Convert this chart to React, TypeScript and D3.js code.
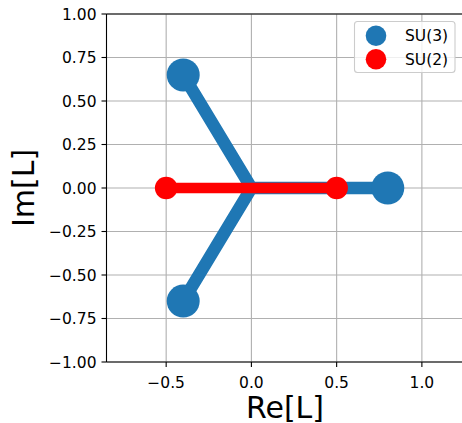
import React from "react";
import * as d3 from "d3";

const su3Re = [-0.4, -0.4, 0.8];
const su3Im = [0.65, -0.65, 0.0];
const su2Re = [-0.5, 0.5];
const su2Im = [0.0, 0.0];
const xTicks = [-0.5, 0.0, 0.5, 1.0];
const yTicks = [-1.0, -0.75, -0.5, -0.25, 0.0, 0.25, 0.5, 0.75, 1.0];
const legendLabels = ["SU(3)", "SU(2)"];

const W = 462;
const H = 423;
const FONT = "DejaVu Sans, sans-serif";

export default function App() {
  const x = d3.scaleLinear().domain([-0.85, 1.25]).range([106.5, 464.5]);
  const y = d3.scaleLinear().domain([-1, 1]).range([362, 14]);
  const blue = "#1f77b4";
  const red = "#ff0000";
  const fmtY = (v: number) => d3.format(".2f")(v).replace("-", "\u2212");
  const fmtX = (v: number) => d3.format(".1f")(v).replace("-", "\u2212");

  const line = d3.line<[number, number]>().x((d) => x(d[0])).y((d) => y(d[1]));
  const origin: [number, number] = [0, 0];
  const blueArms = su3Re.map((r, i) => line([origin, [r, su3Im[i]]]) as string).join(" ");
  const redPath = line(su2Re.map((r, i) => [r, su2Im[i]] as [number, number])) as string;

  return (
    <svg
      width={W}
      height={H}
      style={{ position: "absolute", left: 0, top: 0, background: "#fff" }}
      fontFamily={FONT}
    >
      <defs>
        <clipPath id="plotclip">
          <rect x={106.5} y={14} width={358} height={348} />
        </clipPath>
      </defs>
      {/* grid */}
      <g stroke="#b0b0b0" strokeWidth={1.1}>
        {xTicks.map((t) => (
          <line key={"gx" + t} x1={x(t)} x2={x(t)} y1={14} y2={362} />
        ))}
        {yTicks.map((t) => (
          <line key={"gy" + t} x1={106.5} x2={W + 5} y1={y(t)} y2={y(t)} />
        ))}
      </g>
      <g clipPath="url(#plotclip)">
        <path d={blueArms} fill="none" stroke={blue} strokeWidth={12.5} strokeLinejoin="round" strokeLinecap="butt" />
        <path d={redPath} fill="none" stroke={red} strokeWidth={10.5} strokeLinejoin="round" strokeLinecap="butt" />
        {su3Re.map((r, i) => (
          <circle key={"b" + i} cx={x(r)} cy={y(su3Im[i])} r={16.5} fill={blue} />
        ))}
        {su2Re.map((r, i) => (
          <circle key={"r" + i} cx={x(r)} cy={y(su2Im[i])} r={11.3} fill={red} />
        ))}
      </g>
      {/* spines */}
      <g stroke="#000" strokeWidth={1.1} fill="none">
        <line x1={106.5} x2={106.5} y1={14} y2={362} />
        <line x1={106.5} x2={W + 5} y1={362} y2={362} />
        <line x1={106.5} x2={W + 5} y1={14} y2={14} />
      </g>
      {/* ticks */}
      <g stroke="#000" strokeWidth={1.1}>
        {xTicks.map((t) => (
          <line key={"tx" + t} x1={x(t)} x2={x(t)} y1={362} y2={367} />
        ))}
        {yTicks.map((t) => (
          <line key={"ty" + t} x1={101.5} x2={106.5} y1={y(t)} y2={y(t)} />
        ))}
      </g>
      <g fontSize={15.5} fill="#000">
        {xTicks.map((t) => (
          <text key={"lx" + t} x={x(t)} y={388} textAnchor="middle">
            {fmtX(t)}
          </text>
        ))}
        {yTicks.map((t) => (
          <text key={"ly" + t} x={96.5} y={y(t) + 5.5} textAnchor="end">
            {fmtY(t)}
          </text>
        ))}
      </g>
      <text x={285} y={417.5} fontSize={30} textAnchor="middle">
        Re[L]
      </text>
      <text transform="translate(33.5,188) rotate(-90)" fontSize={30} textAnchor="middle">
        Im[L]
      </text>
      {/* legend */}
      <g>
        <rect x={354.5} y={21.5} width={100.5} height={51} rx={3} fill="#fff" fillOpacity={0.8} stroke="#cccccc" strokeWidth={1.1} />
        {legendLabels.map((lab, i) => (
          <g key={lab}>
            <circle cx={376} cy={35.7 + i * 23.6} r={10.3} fill={i === 0 ? blue : red} />
            <text x={405} y={35.7 + i * 23.6 + 5.5} fontSize={15.5}>
              {lab}
            </text>
          </g>
        ))}
      </g>
    </svg>
  );
}
